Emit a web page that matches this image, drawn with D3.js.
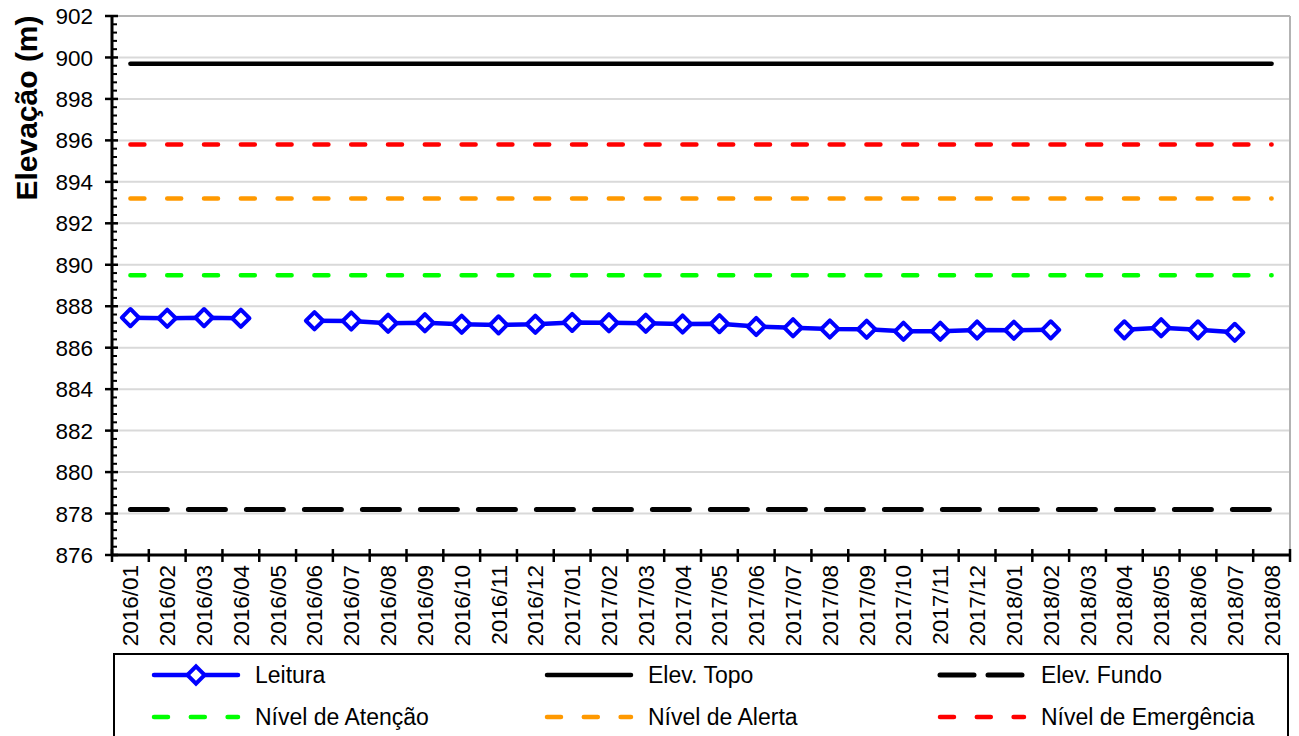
<!DOCTYPE html>
<html>
<head>
<meta charset="utf-8">
<script src="https://cdn.jsdelivr.net/npm/d3@7"></script>
<style>
  html, body { margin: 0; padding: 0; background: #fff; }
  svg { display: block; font-family: "Liberation Sans", Arial, sans-serif; }
</style>
</head>
<body>
<svg id="chart" width="1299" height="736"></svg>
<script>
const categories = ["2016/01","2016/02","2016/03","2016/04","2016/05","2016/06","2016/07","2016/08","2016/09","2016/10","2016/11","2016/12",
  "2017/01","2017/02","2017/03","2017/04","2017/05","2017/06","2017/07","2017/08","2017/09","2017/10","2017/11","2017/12",
  "2018/01","2018/02","2018/03","2018/04","2018/05","2018/06","2018/07","2018/08"];
const leitura = [887.45,887.42,887.45,887.42,null,887.30,887.29,887.18,887.20,887.13,887.10,887.13,
  887.22,887.20,887.18,887.14,887.16,887.02,886.96,886.90,886.89,886.79,886.79,886.85,
  886.84,886.86,null,886.86,886.96,886.86,886.74,null];
const elevTopo = 899.7;
const elevFundo = 878.2;
const nivelAtencao = 889.5;
const nivelAlerta = 893.2;
const nivelEmergencia = 895.8;
const yTicks = [876,878,880,882,884,886,888,890,892,894,896,898,900,902];
const legendLabels = ["Leitura","Elev. Topo","Elev. Fundo","Nível de Atenção","Nível de Alerta","Nível de Emergência"];

const svg = d3.select("#chart");
const L = 112, R = 1290, T = 16, B = 555;
const x = d3.scaleBand().domain(categories).range([L, R]).padding(0);
const y = d3.scaleLinear().domain([876, 902]).range([B, T]);
const bw = x.bandwidth();
const cx = d => x(d) + bw / 2;

// gridlines
svg.append("g").selectAll("line").data(yTicks.filter(t => t > 876)).join("line")
  .attr("x1", L).attr("x2", R).attr("y1", d => y(d)).attr("y2", d => y(d))
  .attr("stroke", d => d === 902 ? "#b3b3b3" : "#d9d9d9").attr("stroke-width", 2);
// right border
svg.append("line").attr("x1", R).attr("x2", R).attr("y1", T).attr("y2", B)
  .attr("stroke", "#b3b3b3").attr("stroke-width", 2);

// reference lines
const x0 = cx(categories[0]), x1 = cx(categories[categories.length - 1]);
const refs = [
  {v: elevTopo, c: "#000000", w: 4.5, dash: null},
  {v: nivelEmergencia, c: "#ff0000", w: 4.5, dash: "14,22.8"},
  {v: nivelAlerta, c: "#ff9900", w: 4.5, dash: "14,22.8"},
  {v: nivelAtencao, c: "#00ff00", w: 4.5, dash: "14,22.8"},
  {v: elevFundo, c: "#000000", w: 5, dash: "37,21"}
];
svg.append("g").selectAll("line").data(refs).join("line")
  .attr("x1", x0).attr("x2", x1).attr("y1", d => y(d.v)).attr("y2", d => y(d.v))
  .attr("stroke", d => d.c).attr("stroke-width", d => d.w)
  .attr("stroke-dasharray", d => d.dash).attr("stroke-linecap", "round");

// leitura line
const pts = categories.map((c, i) => ({c, v: leitura[i]}));
svg.append("path").datum(pts)
  .attr("d", d3.line().defined(d => d.v != null).x(d => cx(d.c)).y(d => y(d.v)))
  .attr("fill", "none").attr("stroke", "#0000ff").attr("stroke-width", 4.5).attr("stroke-linejoin", "round");
const diamond = d3.symbol().type(d3.symbolSquare).size(148);
svg.append("g").selectAll("path").data(pts.filter(d => d.v != null)).join("path")
  .attr("d", diamond)
  .attr("transform", d => `translate(${cx(d.c)},${y(d.v)}) rotate(45)`)
  .attr("fill", "#fff").attr("stroke", "#0000ff").attr("stroke-width", 4).attr("stroke-linejoin", "round");

// Y axis
const yAxis = svg.append("g");
yAxis.append("line").attr("x1", L).attr("x2", L).attr("y1", T - 1).attr("y2", B + 1)
  .attr("stroke", "#000").attr("stroke-width", 3);
const minor = d3.range(0, 65).map(i => 876 + i * 0.4).filter(v => Math.abs(v / 2 - Math.round(v / 2)) > 0.01);
yAxis.selectAll(".mn").data(minor).join("line")
  .attr("x1", L).attr("x2", L + 5).attr("y1", d => y(d)).attr("y2", d => y(d))
  .attr("stroke", "#000").attr("stroke-width", 2);
yAxis.selectAll(".mj").data(yTicks).join("line")
  .attr("x1", L - 7).attr("x2", L + 6).attr("y1", d => y(d)).attr("y2", d => y(d))
  .attr("stroke", "#000").attr("stroke-width", 2.5);
yAxis.selectAll("text").data(yTicks).join("text")
  .attr("x", 93).attr("y", d => y(d)).attr("dy", "0.36em")
  .attr("text-anchor", "end").attr("font-size", 22.5).attr("fill", "#000").text(d => d);

// X axis
const xAxis = svg.append("g");
xAxis.append("line").attr("x1", L - 1).attr("x2", R + 1).attr("y1", B).attr("y2", B)
  .attr("stroke", "#000").attr("stroke-width", 3);
xAxis.selectAll(".tk").data(categories.map(c => x(c) + bw).concat([L])).join("line")
  .attr("x1", d => d).attr("x2", d => d).attr("y1", B - 6).attr("y2", B + 7)
  .attr("stroke", "#000").attr("stroke-width", 2.5);
xAxis.selectAll("text").data(categories).join("text")
  .attr("transform", d => `translate(${cx(d) + 8},${565}) rotate(-90)`)
  .attr("text-anchor", "end").attr("font-size", 22.5).attr("fill", "#000").text(d => d);

// Y title
svg.append("text").attr("transform", `translate(37,108) rotate(-90)`)
  .attr("text-anchor", "middle").attr("font-size", 30).attr("font-weight", "bold").text("Elevação (m)");

// Legend
const lg = svg.append("g");
lg.append("rect").attr("x", 114).attr("y", 654).attr("width", 1174).attr("height", 100)
  .attr("fill", "#fff").attr("stroke", "#000").attr("stroke-width", 2);
const legendItems = [
  {label: legendLabels[0], c: "#0000ff", w: 4.5, dash: null, marker: true, col: 0, row: 0},
  {label: legendLabels[1], c: "#000000", w: 4.5, dash: null, col: 1, row: 0},
  {label: legendLabels[2], c: "#000000", w: 5, dash: "34,14", col: 2, row: 0},
  {label: legendLabels[3], c: "#00ff00", w: 4.5, dash: "14,22.8", col: 0, row: 1},
  {label: legendLabels[4], c: "#ff9900", w: 4.5, dash: "14,22.8", col: 1, row: 1},
  {label: legendLabels[5], c: "#ff0000", w: 4.5, dash: "14,22.8", col: 2, row: 1}
];
const colX = [152, 545, 938];
const rowY = [675, 717];
legendItems.forEach(it => {
  const gx = colX[it.col], gy = rowY[it.row];
  lg.append("line").attr("x1", gx + 2).attr("x2", gx + 86).attr("y1", gy).attr("y2", gy)
    .attr("stroke", it.c).attr("stroke-width", it.w).attr("stroke-dasharray", it.dash)
    .attr("stroke-linecap", "round");
  if (it.marker) {
    lg.append("path").attr("d", diamond)
      .attr("transform", `translate(${gx + 44},${gy}) rotate(45)`)
      .attr("fill", "#fff").attr("stroke", "#0000ff").attr("stroke-width", 4);
  }
  lg.append("text").attr("x", gx + 103).attr("y", gy).attr("dy", "0.36em")
    .attr("font-size", 23).attr("fill", "#000").text(it.label);
});
</script>
</body>
</html>
